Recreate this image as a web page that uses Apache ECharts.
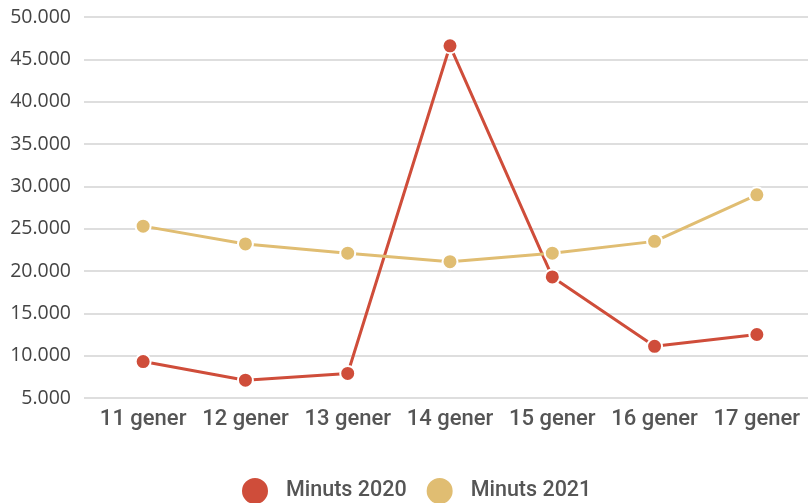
<!DOCTYPE html>
<html><head><meta charset="utf-8">
<script src="https://cdn.jsdelivr.net/npm/echarts@6/dist/echarts.min.js"></script>
<style>html,body{margin:0;padding:0;background:#fff}#c{width:808px;height:503px}</style>
</head><body><div id="c"></div>
<script>
const categories = ['11 gener','12 gener','13 gener','14 gener','15 gener','16 gener','17 gener'];
const minuts2020 = [9300, 7100, 7900, 46600, 19300, 11100, 12500];
const minuts2021 = [25300, 23200, 22100, 21100, 22100, 23500, 29000];
const seriesNames = ['Minuts 2020', 'Minuts 2021'];
const colors = ['#cf4d3a', '#e0bd72'];

const chart = echarts.init(document.getElementById('c'), null, {renderer:'canvas'});
const fmt = v => v.toLocaleString('de-DE');
chart.setOption({
  animation:false,
  color: colors,
  grid:[
    {left:92, right:0, top:17, bottom:105},
    {left:84, right:0, top:17, bottom:105}
  ],
  xAxis:[
    {gridIndex:0, type:'category', data:categories, boundaryGap:true,
     axisLine:{show:false}, axisTick:{show:false},
     axisLabel:{interval:0, hideOverlap:false, margin:10, fontFamily:'Roboto', fontWeight:500, fontSize:22, color:'#555'}},
    {gridIndex:1, type:'category', data:categories, show:false}
  ],
  yAxis:[
    {gridIndex:0, type:'value', min:5000, max:50000, interval:5000, show:false, splitLine:{show:false}},
    {gridIndex:1, type:'value', min:5000, max:50000, interval:5000,
     axisLine:{show:false}, axisTick:{show:false},
     axisLabel:{margin:13, formatter:fmt, fontFamily:'Open Sans', fontSize:19.5, color:'#444'},
     splitLine:{lineStyle:{color:'#d3d3d3', width:1.5}}}
  ],
  legend:{top:471, left:235, itemWidth:28, itemHeight:28, itemGap:18, icon:'circle',
    textStyle:{fontFamily:'Roboto', fontWeight:500, fontSize:21.5, color:'#555', padding:[0,0,0,12]},
    data:seriesNames},
  series:[
    {name:seriesNames[0], type:'line', data:minuts2020, xAxisIndex:0, yAxisIndex:0,
     symbol:'circle', symbolSize:15, lineStyle:{width:3},
     itemStyle:{color:colors[0], borderColor:'#fff', borderWidth:2}},
    {name:seriesNames[1], type:'line', data:minuts2021, xAxisIndex:0, yAxisIndex:0,
     symbol:'circle', symbolSize:15, lineStyle:{width:3},
     itemStyle:{color:colors[1], borderColor:'#fff', borderWidth:2}}
  ]
});
</script></body></html>
